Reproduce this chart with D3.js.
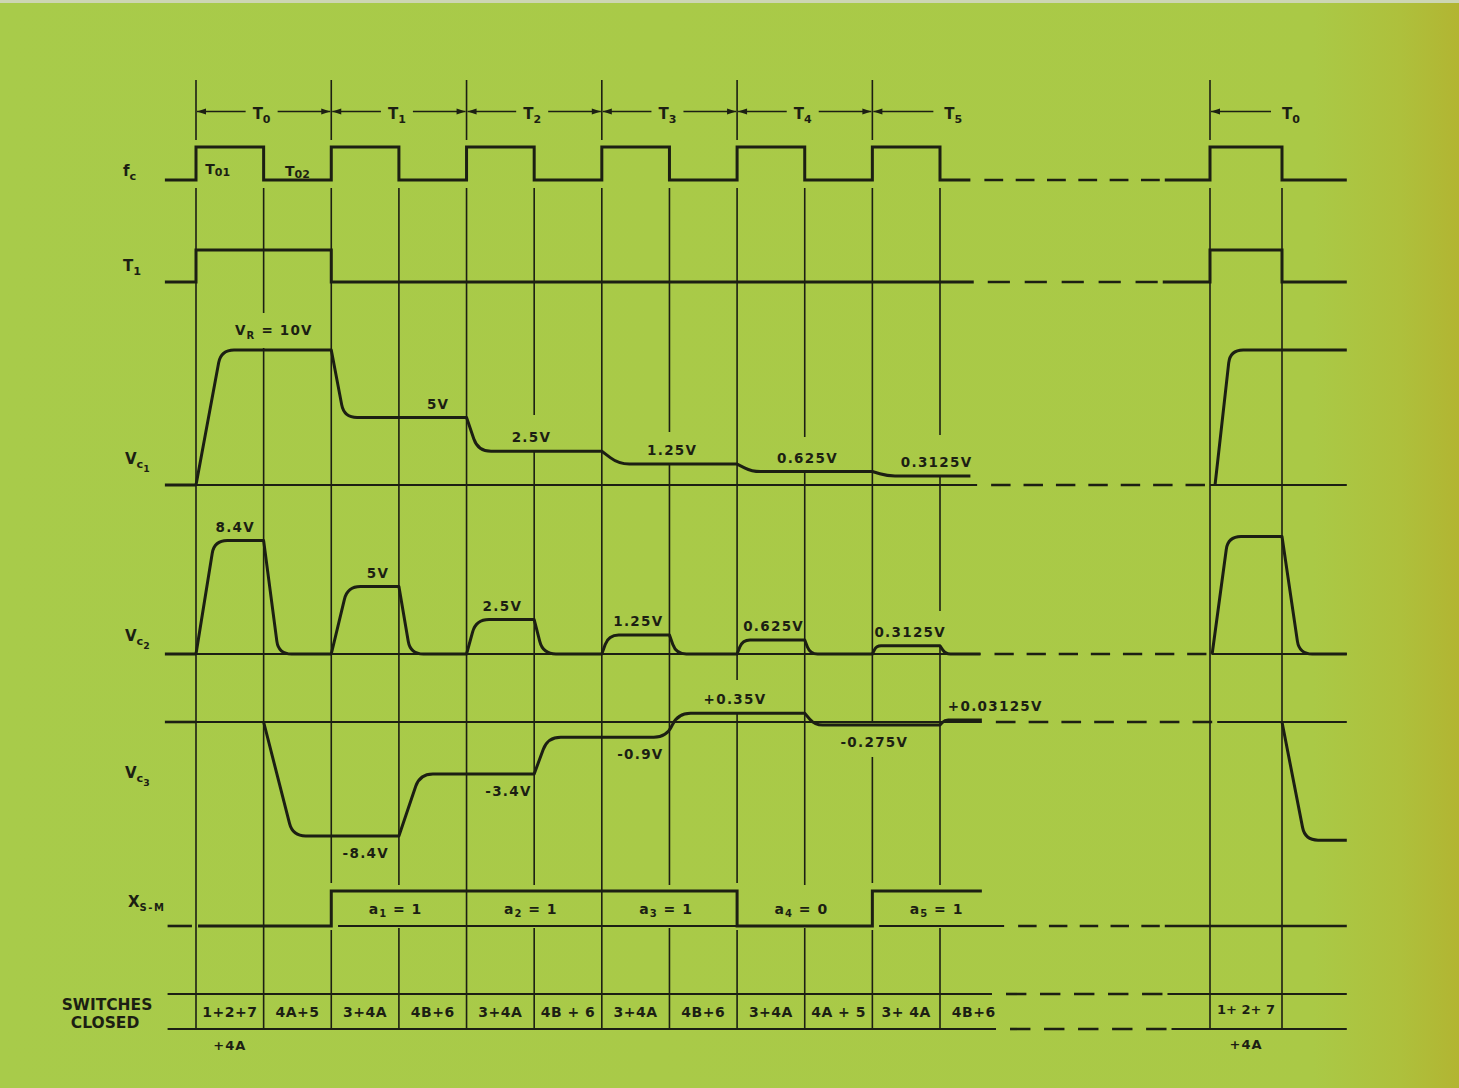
<!DOCTYPE html>
<html><head><meta charset="utf-8">
<script src="https://cdn.jsdelivr.net/npm/d3@7"></script>
<style>html,body{margin:0;padding:0;overflow:hidden;background:#a9ca47}</style>
</head><body>
<svg id="c" width="1459" height="1088"></svg>
<script>
// ================= DATA (time t in half-periods of fc, levels in volts / logic) =================
const boundaries = [0,1,2,3,4,5,6,7,8,9,10,11,15,16];
const periodStarts = [0,2,4,6,8,10,15];
const periodNames = ["0","1","2","3","4","5","0"];
const fcHigh = [[0,1],[2,3],[4,5],[6,7],[8,9],[10,11],[15,16]];
const t1High = [[0,2],[15,16]];
const xsmBits = [0,1,1,1,0,1];           // per period T0..T5
const xsmBitLabels = ["1","2","3","4","5"];

// waveform vertices [t, volts]; corners at switching instants are sharp, settling corners are rounded
const vc1Left = [[0,0],[0.37,10],[2,10],[2.19,5],[4,5],[4.17,2.5],[6,2.5],[6.25,1.55],[8,1.55],[8.22,1.0],[10,1.0],[10.22,0.67],[11.45,0.67]];
const vc1Right = [[15.07,0],[15.28,10],[16.9,10]];
const vc2Left = [[0,0],[0.27,8.4],[1,8.4],[1.22,0],[2,0],[2.24,5],[3,5],[3.17,0],[4,0],[4.14,2.55],[5,2.55],[5.13,0],
  [6,0],[6.1,1.41],[7,1.41],[7.1,0],[8,0],[8.08,1.04],[9,1.04],[9.08,0],[10,0],[10.06,0.61],[11,0.61],[11.08,0],[11.6,0]];
const vc2Right = [[15.03,0],[15.25,8.7],[16,8.7],[16.24,0],[16.9,0]];
const vc3Left = [[1,0],[1.43,-8.45],[3,-8.45],[3.31,-3.85],[5,-3.85],[5.2,-1.13],[6.96,-1.13],[7.12,0.64],[9,0.64],[9.15,-0.22],[11,-0.22],[11.07,0.15],[11.62,0.15]];
const vc3Right = [[16,0],[16.32,-8.75],[16.9,-8.75]];

// value labels: [t, level, text]
const vc1Labels = [[3.58,5,"5V"],[4.96,2.5,"2.5V"],[7.04,1.55,"1.25V"],[9.04,1.0,"0.625V"],[10.95,0.67,"0.3125V"]];
const vc1RefLabel = [1.15,10,"= 10V"];
const vc2Labels = [[0.58,8.4,"8.4V"],[2.69,5,"5V"],[4.53,2.55,"2.5V"],[6.54,1.41,"1.25V"],[8.54,1.04,"0.625V"],[10.56,0.61,"0.3125V"]];
const vc3Labels = [[2.51,-8.45,"-8.4V"],[4.62,-3.85,"-3.4V"],[6.57,-1.13,"-0.9V"],[7.97,0.64,"+0.35V"],[10.03,-0.22,"-0.275V"],[11.82,0.15,"+0.03125V"]];

const switchLabels = ["1+2+7","4A+5","3+4A","4B+6","3+4A","4B + 6","3+4A","4B+6","3+4A","4A + 5","3+ 4A","4B+6"];
const switchRightLabel = "1+ 2+ 7";

// ================= LAYOUT =================
const W = 1459, H = 1088, INK = "#1c1f13", FONT = "DejaVu Sans, sans-serif";
const x = d3.scaleLinear().domain([0,11,15,16]).range([196,940,1210,1282]);
const yFc = d3.scaleLinear().domain([0,1]).range([180,147]);
const yT1 = d3.scaleLinear().domain([0,1]).range([282,250]);
const yV1 = d3.scaleLinear().domain([0,10]).range([485,350]);
const yV2 = d3.scaleLinear().domain([0,10]).range([654,519]);
const yV3 = d3.scaleLinear().domain([0,10]).range([722,587]);
const yXs = d3.scaleLinear().domain([0,1]).range([926,891]);
const tableTop = 994, tableBot = 1029, headerY = 111.5, ROUND = 13;
const tStart = -0.46, tEnd = 16.9;
const gridGaps = {1:[[313,348]],2:[[883,930]],3:[[885,928]],5:[[415,450],[885,928]],7:[[432,465],[885,928]],
  8:[[680,712],[883,930]],9:[[437,471],[885,928]],10:[[723,757],[883,930]],11:[[435,476],[611,645],[885,928]]};

const svg = d3.select("#c");
const defs = svg.append("defs");
const grad = defs.append("linearGradient").attr("id","bg").attr("x1",0).attr("x2",1).attr("y1",0).attr("y2",0);
[[0,"#a8cb4a"],[0.9,"#aac946"],[0.96,"#aec03c"],[1,"#b2b532"]].forEach(([o,c])=>grad.append("stop").attr("offset",o).attr("stop-color",c));
svg.append("rect").attr("width",W).attr("height",H).attr("fill","url(#bg)");
svg.append("rect").attr("width",W).attr("height",3).attr("fill","#cdd6b4");

const g = svg.append("g").attr("stroke-linecap","butt").attr("fill","none");
function stroke(sel,w){ return sel.attr("stroke",INK).attr("stroke-width",w); }
function linePath(pts, yS, w){
  const l = d3.line().x(d=>x(d[0])).y(d=>yS(d[1]));
  return stroke(g.append("path").attr("d", l(pts)).attr("stroke-linejoin","miter"), w);
}
// polyline with rounded settling corners (sharp at switching instants = integer t)
function roundedPath(pts, yS, w){
  const P = pts.map(d=>[x(d[0]), yS(d[1]), Number.isInteger(d[0])]);
  const p = d3.path();
  p.moveTo(P[0][0],P[0][1]);
  for (let i=1;i<P.length-1;i++){
    const [xa,ya]=P[i-1],[xb,yb,sharp]=P[i],[xc,yc]=P[i+1];
    if (sharp){ p.lineTo(xb,yb); continue; }
    const l1=Math.hypot(xb-xa,yb-ya), l2=Math.hypot(xc-xb,yc-yb);
    const r=Math.min(ROUND,l1/2,l2/2);
    p.lineTo(xb-(xb-xa)/l1*r, yb-(yb-ya)/l1*r);
    p.quadraticCurveTo(xb,yb, xb+(xc-xb)/l2*r, yb+(yc-yb)/l2*r);
  }
  const last=P[P.length-1]; p.lineTo(last[0],last[1]);
  return stroke(g.append("path").attr("d",p.toString()).attr("stroke-linejoin","round"), w);
}
function hseg(t0,t1,y,w){
  stroke(g.append("line").attr("x1",x(t0)).attr("x2",x(t1)).attr("y1",y).attr("y2",y), w);
}
function dashes(tA,tB,y){ // break region, whole dashes only, fitted to the gap
  const xa = x(tA)+14, xb = x(tB)-5, len = xb-xa;
  const n = Math.max(1, Math.round((len+14)/34));
  const period = (len)/(n-0.4);
  stroke(g.append("line").attr("x1",xa).attr("x2",xb).attr("y1",y).attr("y2",y),2.6)
    .attr("stroke-dasharray",`${(period*0.6).toFixed(2)},${(period*0.4).toFixed(2)}`);
}
function stepPts(t0,t1,edges,init){
  const pts=[[t0,init]]; let cur=init;
  edges.filter(e=>e[0]>t0&&e[0]<t1).sort((a,b)=>a[0]-b[0]).forEach(([t,l])=>{pts.push([t,cur],[t,l]);cur=l;});
  pts.push([t1,cur]); return pts;
}
const edgesOf = iv => iv.flatMap(([a,b])=>[[a,1],[b,0]]);

// ---- vertical grid lines ----
boundaries.forEach(b=>{
  const gaps = gridGaps[b]||[];
  let y0 = 188;
  gaps.concat([[tableBot,tableBot]]).forEach(([ga,gb])=>{
    stroke(g.append("line").attr("x1",x(b)).attr("x2",x(b)).attr("y1",y0).attr("y2",ga),1.6);
    y0 = gb;
  });
});

// ---- header ----
const tg = svg.append("g").attr("fill",INK).attr("font-family",FONT);
function arrowHead(xt, dir){
  tg.append("path").attr("d",`M${xt},${headerY} L${xt-dir*9},${headerY-3} L${xt-dir*9},${headerY+3} Z`);
}
function hline(x1,x2,y,w){ stroke(g.append("line").attr("x1",x1).attr("x2",x2).attr("y1",y).attr("y2",y),w); }
function Tlabel(cx, sub){
  const t = tg.append("text").attr("x",cx-9).attr("y",headerY+7).attr("font-size",15).attr("font-weight","bold");
  t.append("tspan").text("T");
  t.append("tspan").attr("font-size",11).attr("dy",4).text(sub);
}
periodStarts.forEach((p,i)=>{
  stroke(g.append("line").attr("x1",x(p)).attr("x2",x(p)).attr("y1",80).attr("y2",140),1.6);
  const xl = x(p)+1;
  if (i < 5){
    const xr = x(p+2)-1, cx = x(p+1)-3;
    hline(xl,cx-15,headerY,1.6); hline(cx+17,xr,headerY,1.6);
    arrowHead(xl,-1); arrowHead(xr,1);
    Tlabel(cx+1, periodNames[i]);
  } else {
    hline(xl,xl+60,headerY,1.6);
    arrowHead(xl,-1);
    Tlabel(xl+80, periodNames[i]);
  }
});

// ---- fc ----
linePath(stepPts(tStart,11.45,edgesOf(fcHigh),0), yFc, 3);
linePath(stepPts(14.33,tEnd,edgesOf(fcHigh),0), yFc, 3);
dashes(11.45,14.33,yFc(0));
// ---- T1 ----
linePath(stepPts(tStart,11.5,edgesOf(t1High),0), yT1, 3);
linePath(stepPts(14.3,tEnd,edgesOf(t1High),0), yT1, 3);
dashes(11.5,14.3,yT1(0));
// ---- Vc1 ----
hseg(tStart,0,yV1(0),3); hseg(0,11.55,yV1(0),1.8); hseg(15,tEnd,yV1(0),1.8);
dashes(11.55,15,yV1(0));
roundedPath(vc1Left,yV1,3); roundedPath(vc1Right,yV1,3);
// ---- Vc2 ----
hseg(tStart,0,yV2(0),3); hseg(0,11.6,yV2(0),1.8); hseg(15.02,tEnd,yV2(0),1.8);
dashes(11.6,15.02,yV2(0));
roundedPath(vc2Left,yV2,3); roundedPath(vc2Right,yV2,3);
// ---- Vc3 ----
hseg(tStart,0,yV3(0),2.6); hseg(0,11.62,yV3(0),1.8); hseg(15.1,tEnd,yV3(0),1.8);
dashes(11.62,15.1,yV3(0));
roundedPath(vc3Left,yV3,3); roundedPath(vc3Right,yV3,3);
// ---- Xs-m ----
const xsEdges = xsmBits.map((b,k)=>[2*k,b]).filter((e,k)=>k>0 && xsmBits[k]!==xsmBits[k-1]);
hseg(-0.42,-0.06,yXs(0),2.6);
linePath(stepPts(0.03,11.62,xsEdges,xsmBits[0]), yXs, 3);
hseg(2.1,8,yXs(0),1.8); hseg(10.1,11.95,yXs(0),1.8);
hseg(14.33,tEnd,yXs(0),2.4);
dashes(11.95,14.33,yXs(0));
// ---- switches table ----
hseg(-0.42,11.77,tableTop,2.2); hseg(14.37,tEnd,tableTop,2.2); dashes(11.77,14.37,tableTop);
hseg(-0.42,11.83,tableBot,2.2); hseg(14.43,tEnd,tableBot,2.2); dashes(11.83,14.43,tableBot);

// ================= TEXT =================
const txt = svg.append("g").attr("fill",INK).attr("font-family",FONT);
function sublabel(xp, yp, main, sub, sub2, size){
  const s = size||15;
  const t = txt.append("text").attr("x",xp).attr("y",yp).attr("font-size",s).attr("font-weight","bold");
  t.append("tspan").text(main);
  t.append("tspan").attr("font-size",s*0.75).attr("dy",4).text(sub);
  if (sub2) t.append("tspan").attr("font-size",s*0.62).attr("dy",4).text(sub2);
  return t;
}
sublabel(123,176,"f","c");
sublabel(123,271,"T","1");
sublabel(125,464,"V","c","1");
sublabel(125,641,"V","c","2");
sublabel(125,778,"V","c","3");
{ const t = txt.append("text").attr("x",128).attr("y",907).attr("font-size",15).attr("font-weight","bold");
  t.append("tspan").text("X"); t.append("tspan").attr("font-size",10).attr("dy",4).attr("letter-spacing",1.5).text("S-M"); }
txt.append("text").attr("x",107).attr("y",1010).attr("text-anchor","middle").attr("font-size",15.5).attr("font-weight","bold").text("SWITCHES");
txt.append("text").attr("x",105).attr("y",1028).attr("text-anchor","middle").attr("font-size",15.5).attr("font-weight","bold").text("CLOSED");

[[0.32,"01",174],[1.5,"02",176]].forEach(([t,s,yy])=>{
  const e = txt.append("text").attr("x",x(t)).attr("y",yy).attr("text-anchor","middle").attr("font-size",14).attr("font-weight","bold");
  e.append("tspan").text("T"); e.append("tspan").attr("font-size",11).attr("dy",2).text(s);
});

function vlabel(arr, yS, placement){
  arr.forEach(([t,v,s])=>{
    const below = placement==="auto" && v<0;
    txt.append("text").attr("x",x(t)).attr("y", below ? yS(v)+22 : yS(v)-9)
      .attr("text-anchor","middle").attr("font-size",13.5).attr("font-weight","bold").attr("letter-spacing",1.3).text(s);
  });
}
vlabel(vc1Labels,yV1); vlabel(vc2Labels,yV2); vlabel(vc3Labels,yV3,"auto");
{ const [t,v,s] = vc1RefLabel;
  const e = txt.append("text").attr("x",x(t)).attr("y",yV1(v)-15).attr("text-anchor","middle").attr("font-size",13.5).attr("font-weight","bold").attr("letter-spacing",1.2);
  e.append("tspan").text("V"); e.append("tspan").attr("font-size",10).attr("dy",4).text("R");
  e.append("tspan").attr("dy",-4).text(" "+s); }

xsmBitLabels.forEach((n,i)=>{
  const k = i+1;
  const e = txt.append("text").attr("x",x(2*k+0.95)).attr("y",914).attr("text-anchor","middle").attr("font-size",14).attr("font-weight","bold").attr("letter-spacing",1);
  e.append("tspan").text("a"); e.append("tspan").attr("font-size",10).attr("dy",3).text(n);
  e.append("tspan").attr("dy",-3).text(" = "+xsmBits[k]);
});

switchLabels.forEach((s,i)=>{
  txt.append("text").attr("x",x(i+0.5)).attr("y",1017).attr("text-anchor","middle").attr("font-size",14).attr("font-weight","bold").attr("letter-spacing",0.5).text(s);
});
txt.append("text").attr("x",x(15.5)).attr("y",1014).attr("text-anchor","middle").attr("font-size",13).attr("font-weight","bold").text(switchRightLabel);
txt.append("text").attr("x",x(0.5)).attr("y",1050).attr("text-anchor","middle").attr("font-size",13).attr("font-weight","bold").attr("letter-spacing",1).text("+4A");
txt.append("text").attr("x",x(15.5)).attr("y",1049).attr("text-anchor","middle").attr("font-size",13).attr("font-weight","bold").attr("letter-spacing",1).text("+4A");
</script>
</body></html>
